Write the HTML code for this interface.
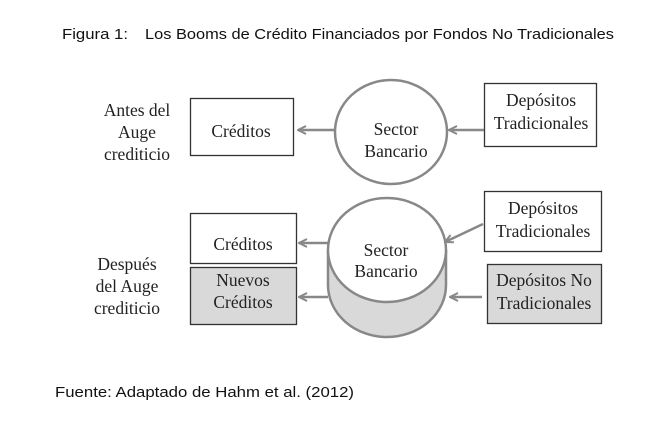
<!DOCTYPE html>
<html><head><meta charset="utf-8"><style>
html,body{margin:0;padding:0;background:#fff;}
svg{display:block;}
.s{font-family:"Liberation Sans",sans-serif;font-size:14.5px;fill:#111;}
.t{font-family:"Liberation Serif",serif;font-size:17.5px;fill:#222;text-anchor:middle;}
</style></head><body>
<svg width="665" height="433" viewBox="0 0 665 433" xmlns="http://www.w3.org/2000/svg">
<defs><marker id="a" markerWidth="10" markerHeight="10" refX="9" refY="5" orient="auto" markerUnits="userSpaceOnUse">
<path d="M1,1 L9,5 L1,9" fill="none" stroke="#888" stroke-width="2"/></marker></defs>
<text class="s" x="62" y="39" textLength="66" lengthAdjust="spacingAndGlyphs">Figura 1:</text>
<text class="s" x="145" y="39" textLength="469" lengthAdjust="spacingAndGlyphs">Los Booms de Crédito Financiados por Fondos No Tradicionales</text>
<text class="s" x="55" y="397" textLength="299" lengthAdjust="spacingAndGlyphs">Fuente: Adaptado de Hahm et al. (2012)</text>

<text class="t" x="137" y="116">Antes del</text>
<text class="t" x="137" y="138">Auge</text>
<text class="t" x="137" y="160">crediticio</text>
<text class="t" x="127" y="270">Después</text>
<text class="t" x="127" y="292">del Auge</text>
<text class="t" x="127" y="314">crediticio</text>

<g stroke="#333" stroke-width="1.3">
<rect x="190.5" y="98.5" width="103" height="57" fill="#fff"/>
<rect x="484.5" y="83.5" width="112" height="63" fill="#fff"/>
<rect x="190.5" y="213.5" width="106" height="50" fill="#fff"/>
<rect x="190.5" y="267.5" width="106" height="57" fill="#d9d9d9"/>
<rect x="484.5" y="191.5" width="117" height="60" fill="#fff"/>
<rect x="487.5" y="264.5" width="114" height="59" fill="#d9d9d9"/>
</g>
<g stroke="#888" stroke-width="2.5">
<ellipse cx="391" cy="132" rx="56" ry="52" fill="#fff"/>
<path d="M328,250 L328,285 A59,52 0 0 0 446,285 L446,250" fill="#d9d9d9"/>
<ellipse cx="387" cy="250" rx="59" ry="52" fill="#fff"/>
</g>
<text class="t" x="396" y="135">Sector</text>
<text class="t" x="396" y="157">Bancario</text>
<text class="t" x="386" y="256">Sector</text>
<text class="t" x="386" y="277">Bancario</text>
<text class="t" x="241" y="137">Créditos</text>
<text class="t" x="541" y="106">Depósitos</text>
<text class="t" x="541" y="129">Tradicionales</text>
<text class="t" x="243" y="250">Créditos</text>
<text class="t" x="243" y="286">Nuevos</text>
<text class="t" x="243" y="308">Créditos</text>
<text class="t" x="543" y="214">Depósitos</text>
<text class="t" x="543" y="237">Tradicionales</text>
<text class="t" x="544" y="286">Depósitos No</text>
<text class="t" x="544" y="309">Tradicionales</text>

<g stroke="#888" stroke-width="2.5" fill="none">
<line x1="335" y1="130" x2="298" y2="130" marker-end="url(#a)"/>
<line x1="484" y1="130" x2="449" y2="130" marker-end="url(#a)"/>
<line x1="328" y1="243" x2="299" y2="243" marker-end="url(#a)"/>
<line x1="328" y1="297" x2="299" y2="297" marker-end="url(#a)"/>
<line x1="483" y1="224" x2="445" y2="242" marker-end="url(#a)"/>
<line x1="482" y1="297" x2="450" y2="297" marker-end="url(#a)"/>
</g>
</svg>
</body></html>
